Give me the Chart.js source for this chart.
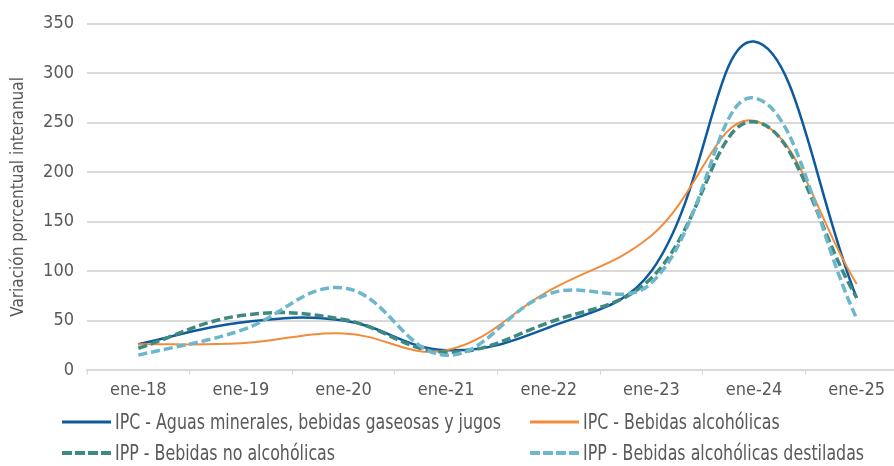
<!DOCTYPE html>
<html lang="es">
<head>
<meta charset="utf-8">
<script src="https://cdn.jsdelivr.net/npm/chart.js@4/dist/chart.umd.min.js"></script>
<style>
  html, body { margin: 0; padding: 0; background: #fff; overflow: hidden; }
  #wrap { position: relative; width: 908px; height: 466px; }
</style>
</head>
<body>
<div id="wrap"><canvas id="grafico"></canvas></div>
<script>
// Variación porcentual interanual, enero de cada año
var categorias = ["ene-18", "ene-19", "ene-20", "ene-21", "ene-22", "ene-23", "ene-24", "ene-25"];
var ipcAguas = [26, 48, 50, 20, 43, 100, 332, 73];
var ipcAlcoholicas = [26, 27, 37, 20, 80, 136, 252, 87];
var ippNoAlcoholicas = [22, 55, 51, 18, 48, 93, 251, 73];
var ippDestiladas = [15, 40, 83, 15, 77, 88, 275, 52];

var fuente = "'Liberation Sans Narrow', 'DejaVu Sans Condensed', 'Liberation Sans', sans-serif";
var gris = "#595959";

var series = [
  { label: "IPC - Aguas minerales, bebidas gaseosas y jugos", data: ipcAguas, color: "#0d5a9e", ancho: 2.5, dash: [] },
  { label: "IPC - Bebidas alcohólicas", data: ipcAlcoholicas, color: "#f28b3b", ancho: 2, dash: [] },
  { label: "IPP - Bebidas no alcohólicas", data: ippNoAlcoholicas, color: "#3e8a80", ancho: 3.5, dash: [9, 4] },
  { label: "IPP - Bebidas alcohólicas destiladas", data: ippDestiladas, color: "#6db7cc", ancho: 3.5, dash: [9, 4] }
];

// Orden de dibujo: las punteadas por encima de las sólidas
var datasets = series.map(function(s, i) {
  return {
    label: s.label,
    data: s.data,
    borderColor: s.color,
    backgroundColor: s.color,
    borderWidth: s.ancho,
    borderDash: s.dash,
    pointRadius: 0,
    tension: 0.4,
    fill: false,
    order: 4 - i
  };
});

// Leyenda en dos columnas debajo del gráfico (texto angosto)
var leyenda = {
  id: "leyenda",
  afterDraw: function(chart) {
    var ctx = chart.ctx;
    var cols = [62, 530];
    var filas = [422, 453];
    ctx.save();
    ctx.font = "22px " + fuente;
    ctx.textBaseline = "middle";
    ctx.textAlign = "left";
    chart.data.datasets.forEach(function(ds, i) {
      var x = cols[i % 2];
      var y = filas[Math.floor(i / 2)];
      ctx.beginPath();
      ctx.strokeStyle = ds.borderColor;
      ctx.lineWidth = ds.borderDash.length ? 4 : 3;
      ctx.setLineDash(ds.borderDash.length ? [10, 3] : []);
      ctx.moveTo(x, y);
      ctx.lineTo(x + 49, y);
      ctx.stroke();
      ctx.setLineDash([]);
      ctx.fillStyle = gris;
      ctx.save();
      ctx.translate(x + 53, y + 1);
      ctx.scale(0.8, 1);
      ctx.fillText(ds.label, 0, 0);
      ctx.restore();
    });
    ctx.restore();
  }
};

var ctx = document.getElementById("grafico").getContext("2d");
var chart = new Chart(ctx, {
  type: "line",
  data: { labels: categorias, datasets: datasets },
  options: {
    responsive: true,
    maintainAspectRatio: false,
    animation: false,
    layout: { padding: { top: 17, right: 0, bottom: 66, left: 0 } },
    plugins: {
      legend: { display: false },
      tooltip: { enabled: false }
    },
    scales: {
      x: {
        type: "category",
        offset: true,
        grid: { offset: true, drawOnChartArea: false, drawTicks: true, tickLength: 5, color: "#d9d9d9" },
        border: { color: "#d9d9d9", width: 2 },
        ticks: { color: gris, font: { family: fuente, size: 18 }, padding: 5, maxRotation: 0 },
        afterFit: function(scale) { scale.height = 30; }
      },
      y: {
        min: 0,
        max: 350,
        ticks: { stepSize: 50, color: gris, font: { family: fuente, size: 18 }, padding: 13 },
        grid: { color: "#d9d9d9", lineWidth: 2, drawTicks: false },
        border: { display: false },
        title: {
          display: true,
          text: "Variación porcentual interanual",
          color: gris,
          font: { family: fuente, size: 17 },
          padding: { top: 8, bottom: 0 }
        },
        afterFit: function(scale) { scale.width = 87; }
      }
    }
  },
  plugins: [leyenda]
});
</script>
</body>
</html>
